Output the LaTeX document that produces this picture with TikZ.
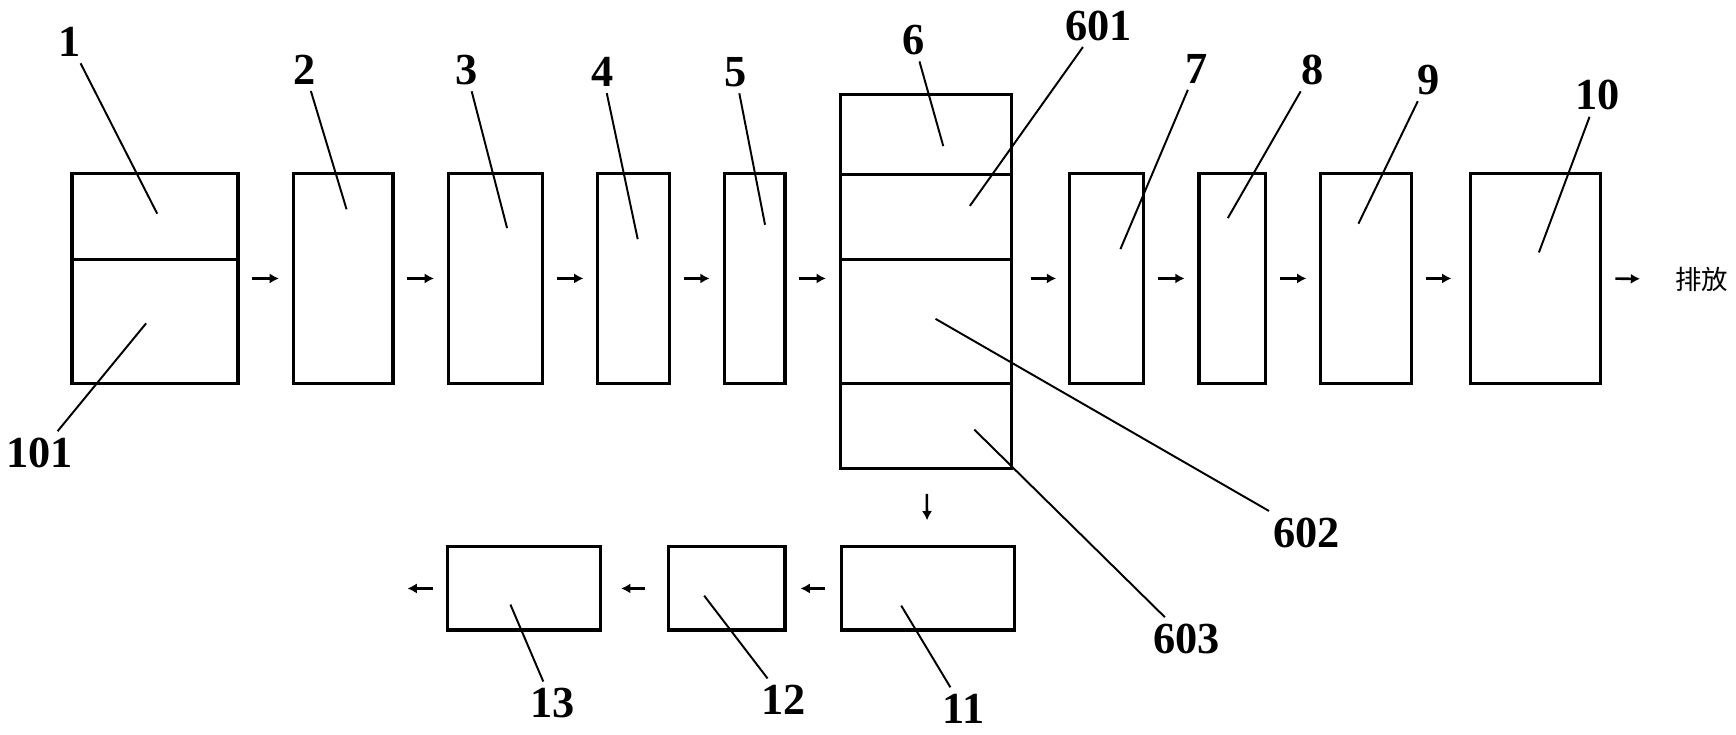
\documentclass[tikz,border=0pt]{standalone}
\usepackage{fontspec}
\setmainfont{Liberation Serif}
\newfontfamily\cjk{Noto Sans CJK SC}
\usetikzlibrary{arrows.meta,positioning}
\tikzset{
    blk/.style={rectangle,draw=black,line width=0.8pt,inner sep=0pt,outer sep=0pt},
    num/.style={font=\fontsize{11.4}{12}\selectfont\bfseries,inner sep=1.5pt},
    lead/.style={line width=0.5pt,black},
    flow/.style={-{Latex[length=2.4pt,width=2.6pt]},line width=0.65pt,shorten <=1.3mm,shorten >=1.3mm},
}

\begin{document}
\begin{tikzpicture}[x=0.1mm,y=-0.1mm]
\useasboundingbox (0,0) rectangle (1568,663);
% main line
\node[blk,minimum width=15mm,minimum height=7.7mm] (b1) at (140,195.5) {};
\node[blk,minimum width=15mm,minimum height=11.2mm] (b101) at (140,290) {};
\node[blk,minimum width=9mm,minimum height=18.9mm] (b2) at (310,251.5) {};
\node[blk,minimum width=8.5mm,minimum height=18.9mm] (b3) at (447.5,251.5) {};
\node[blk,minimum width=6.5mm,minimum height=18.9mm] (b4) at (572.5,251.5) {};
\node[blk,minimum width=5.5mm,minimum height=18.9mm] (b5) at (681.5,251.5) {};
\node[blk,minimum width=15.5mm,minimum height=7.3mm] (b6) at (836.5,121.5) {};
\node[blk,minimum width=15.5mm,minimum height=7.6mm] (b601) at (836.5,196) {};
\node[blk,minimum width=15.5mm,minimum height=11.2mm] (b602) at (836.5,290) {};
\node[blk,minimum width=15.5mm,minimum height=7.7mm] (b603) at (836.5,384.5) {};
\node[blk,minimum width=6.7mm,minimum height=18.9mm] (b7) at (999.5,251.5) {};
\node[blk,minimum width=6mm,minimum height=18.9mm] (b8) at (1113,251.5) {};
\node[blk,minimum width=8.2mm,minimum height=18.9mm] (b9) at (1234,251.5) {};
\node[blk,minimum width=11.8mm,minimum height=18.9mm] (b10) at (1387,251.5) {};
\node[font=\cjk\fontsize{6.8}{7}\selectfont,inner sep=2pt] (pf) at (1537,252) {排放};
% sludge line
\node[blk,minimum width=15.6mm,minimum height=7.5mm] (b11) at (838,531.5) {};
\node[blk,minimum width=10.5mm,minimum height=7.5mm] (b12) at (656.5,531.5) {};
\node[blk,minimum width=13.8mm,minimum height=7.5mm] (b13) at (473,531.5) {};
\coordinate (o13) at (368,531.5);
% arrows
\draw[flow] (b2 -| b101.east) -- (b2);
\draw[flow] (b2) -- (b3);
\draw[flow] (b3) -- (b4);
\draw[flow] (b4) -- (b5);
\draw[flow] (b5) -- (b5 -| b602.west);
\draw[flow,shorten <=1.7mm,shorten >=1.2mm] (b7 -| b602.east) -- (b7);
\draw[flow] (b7) -- (b8);
\draw[flow] (b8) -- (b9);
\draw[flow,shorten >=1.7mm] (b9) -- (b10);
\draw[flow,shorten >=2.4mm] (b10) -- (pf);
\draw[flow,shorten <=2.3mm,shorten >=2.4mm] (b603) -- (b11);
\draw[flow,shorten <=1.5mm,shorten >=1.4mm] (b11) -- (b12);
\draw[flow,shorten <=2.1mm,shorten >=1.9mm] (b12) -- (b13);
\draw[flow,shorten >=0pt] (b13) -- (o13);
% labels
\node[num] (l1) at (63,38) {1};
\node[num] (l101) at (36,409) {101};
\node[num] (l2) at (275,63) {2};
\node[num] (l3) at (421,63) {3};
\node[num] (l4) at (544,65) {4};
\node[num] (l5) at (664,65) {5};
\node[num] (l6) at (825,36) {6};
\node[num] (l601) at (992,23) {601};
\node[num] (l7) at (1081,62) {7};
\node[num] (l8) at (1186,63) {8};
\node[num] (l9) at (1290,72) {9};
\node[num] (l10) at (1443,86) {10};
\node[num] (l602) at (1180,481) {602};
\node[num] (l603) at (1072,577) {603};
\node[num] (l11) at (870,640) {11};
\node[num] (l12) at (708,632) {12};
\node[num] (l13) at (499,635) {13};
% leader ends
\coordinate (p1) at (142,193);
\coordinate (p101) at (132,292);
\coordinate (p2) at (313,189);
\coordinate (p3) at (458,206);
\coordinate (p4) at (576,216);
\coordinate (p5) at (691,203);
\coordinate (p6) at (852,132);
\coordinate (p601) at (876,186);
\coordinate (p7) at (1012,225);
\coordinate (p8) at (1109,197);
\coordinate (p9) at (1227,202);
\coordinate (p10) at (1390,228);
\coordinate (p602) at (845,288);
\coordinate (p603) at (880,388);
\coordinate (p11) at (814,547);
\coordinate (p12) at (636,538);
\coordinate (p13) at (461,546);
\foreach \n in {1,101,2,3,4,5,6,601,7,8,9,10,602,603,11,12,13}
  \draw[lead] (l\n) -- (p\n);
\end{tikzpicture}
\end{document}
